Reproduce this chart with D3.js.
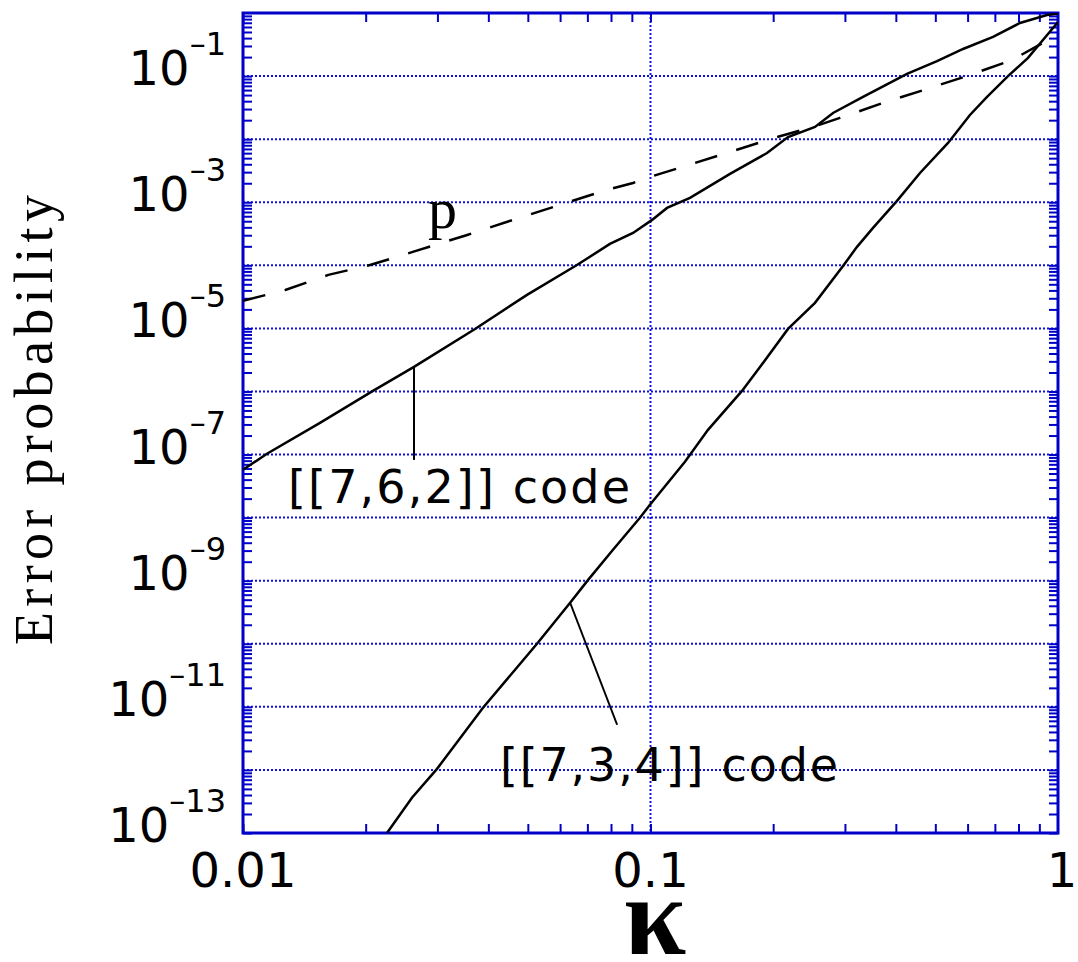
<!DOCTYPE html>
<html>
<head>
<meta charset="utf-8">
<script src="https://cdn.jsdelivr.net/npm/d3@7"></script>
<style>
  body { margin: 0; background: #fff; }
</style>
</head>
<body>
<div id="chart"></div>
<script>
// chart values
var pKappa = [0.0100, 0.0127, 0.0162, 0.0205, 0.0261, 0.0355, 0.0484, 0.0610, 0.0782, 0.0906, 0.0997,
              0.1264, 0.1594, 0.2043, 0.2505, 0.2917, 0.372, 0.477, 0.608, 0.771, 0.919, 1.0];
var pValue = [2.73e-5, 4.07e-5, 7.05e-5, 1.01e-4, 1.63e-4, 3.03e-4, 5.85e-4, 9.4e-4, 1.57e-3, 2.02e-3, 2.52e-3,
              4.05e-3, 6.5e-3, 1.08e-2, 1.56e-2, 2.17e-2, 3.75e-2, 6.25e-2, 0.104, 0.180, 0.335, 0.432];

var code762Kappa = [0.0100, 0.01145, 0.01545, 0.02084, 0.02628, 0.0371, 0.04977, 0.0660, 0.0795, 0.0906, 0.1009,
                    0.1098, 0.1250, 0.1567, 0.1932, 0.2175, 0.2533, 0.2805, 0.3323, 0.4260, 0.5048, 0.5848,
                    0.6928, 0.8066, 0.9397, 1.0];
var code762Value = [5.73e-8, 1.03e-7, 3.18e-7, 1.02e-6, 2.45e-6, 9.8e-6, 3.40e-5, 1.01e-4, 2.18e-4, 3.26e-4, 5.25e-4,
                    8.12e-4, 1.17e-3, 2.81e-3, 6.04e-3, 1.08e-2, 1.56e-2, 2.60e-2, 4.67e-2, 0.108, 0.173, 0.269,
                    0.417, 0.695, 0.93, 0.98];

var code734Kappa = [0.02256, 0.02598, 0.02993, 0.03881, 0.05266, 0.0635, 0.0703, 0.0809, 0.0942, 0.0997, 0.1215,
                    0.1384, 0.1677, 0.1835, 0.2175, 0.2533, 0.2968, 0.3212, 0.3516, 0.4026, 0.4585, 0.5372,
                    0.608, 0.6697, 0.7539, 0.8441, 0.9721, 1.0];
var code734Value = [1.0e-13, 3.62e-13, 1.04e-12, 9.7e-12, 1.0e-10, 4.47e-10, 1.03e-9, 3.09e-9, 9.93e-9, 1.60e-8, 7.66e-8,
                    2.46e-7, 1.02e-6, 2.20e-6, 9.8e-6, 2.54e-5, 9.78e-5, 1.96e-4, 3.92e-4, 1.05e-3, 2.91e-3, 8.71e-3,
                    2.42e-2, 4.67e-2, 0.100, 0.194, 0.578, 0.720];

// tick labels
var xTickValues = [0.01, 0.1, 1];
var xTickLabels = ["0.01", "0.1", "1"];
var yTickExponents = [-1, -3, -5, -7, -9, -11, -13];

// set the dimensions and margins of the graph
var margin = {top: 13, right: 20, bottom: 129, left: 243},
    width = 1078 - margin.left - margin.right,
    height = 962 - margin.top - margin.bottom;

var blue = "#0000c8";

var svgRoot = d3.select("#chart")
  .append("svg")
  .attr("width", width + margin.left + margin.right)
  .attr("height", height + margin.top + margin.bottom);

svgRoot.append("rect").attr("width", 1078).attr("height", 962).attr("fill", "#fff");

var svg = svgRoot.append("g")
  .attr("transform", "translate(" + margin.left + "," + margin.top + ")");

var x = d3.scaleLog().domain([0.01, 1]).range([0, width]);
var y = d3.scaleLog().domain([1e-13, 1]).range([height, 0]);

// minor tick positions: 1..9 in every decade
var xMinor = [];
for (var k = -2; k < 0; k++) for (var m = 1; m < 10; m++) xMinor.push(m * Math.pow(10, k));
var yMinor = [];
for (var k = -13; k < 0; k++) for (var m = 1; m < 10; m++) yMinor.push(m * Math.pow(10, k));

// dotted grid lines
var yGrid = [];
for (var k = -12; k < 0; k++) yGrid.push(Math.pow(10, k));

svg.append("g").selectAll("line.hg")
  .data(yGrid)
  .enter().append("line")
  .attr("x1", 0).attr("x2", width)
  .attr("y1", function(d) { return y(d); })
  .attr("y2", function(d) { return y(d); })
  .attr("stroke", "#1010e0")
  .attr("stroke-width", 2)
  .attr("stroke-dasharray", "2,2");

svg.append("line")
  .attr("x1", x(0.1)).attr("x2", x(0.1))
  .attr("y1", 0).attr("y2", height)
  .attr("stroke", "#1010e0")
  .attr("stroke-width", 2)
  .attr("stroke-dasharray", "2,2");

// axes with inward ticks
function styleAxis(g) {
  g.selectAll(".domain").remove();
  g.selectAll(".tick line").attr("stroke", blue).attr("stroke-width", 2);
}
svg.append("g").call(d3.axisLeft(y).tickValues(yMinor).tickSize(-9).tickFormat("")).call(styleAxis);
svg.append("g").attr("transform", "translate(" + width + ",0)")
  .call(d3.axisRight(y).tickValues(yMinor).tickSize(-9).tickFormat("")).call(styleAxis);
svg.append("g").attr("transform", "translate(0," + height + ")")
  .call(d3.axisBottom(x).tickValues(xMinor).tickSize(-9).tickFormat("")).call(styleAxis);
svg.append("g")
  .call(d3.axisTop(x).tickValues(xMinor).tickSize(-9).tickFormat("")).call(styleAxis);

// frame
svg.append("rect")
  .attr("width", width).attr("height", height)
  .attr("fill", "none")
  .attr("stroke", blue)
  .attr("stroke-width", 3);

// curves
svg.append("clipPath").attr("id", "clip")
  .append("rect").attr("width", width).attr("height", height);

var line = d3.line()
  .x(function(d) { return x(d[0]); })
  .y(function(d) { return y(d[1]); });

function pairs(a, b) { return a.map(function(v, i) { return [v, b[i]]; }); }

var curves = svg.append("g").attr("clip-path", "url(#clip)");
curves.append("path")
  .datum(pairs(pKappa, pValue))
  .attr("d", line)
  .attr("fill", "none")
  .attr("stroke", "#000")
  .attr("stroke-width", 2.5)
  .attr("stroke-dasharray", "23,20");
curves.append("path")
  .datum(pairs(code762Kappa, code762Value))
  .attr("d", line)
  .attr("fill", "none")
  .attr("stroke", "#000")
  .attr("stroke-width", 2.5);
curves.append("path")
  .datum(pairs(code734Kappa, code734Value))
  .attr("d", line)
  .attr("fill", "none")
  .attr("stroke", "#000")
  .attr("stroke-width", 2.5);

// y tick labels 10^k
var ylab = svgRoot.append("g").selectAll("text")
  .data(yTickExponents)
  .enter().append("text")
  .attr("x", 226)
  .attr("y", function(d) { return margin.top + y(Math.pow(10, d)) + 9; })
  .attr("text-anchor", "end")
  .attr("font-family", "DejaVu Sans")
  .attr("fill", "#000");
ylab.append("tspan").attr("font-size", 48).text("10");
ylab.append("tspan").attr("font-size", 32).attr("dy", -30)
  .text(function(d) { return "\u2013" + Math.abs(d); });

// x tick labels
svgRoot.append("g").selectAll("text")
  .data(xTickValues)
  .enter().append("text")
  .attr("x", function(d) { return margin.left + x(d) + (d === 1 ? 4 : 0); })
  .attr("y", 887)
  .attr("text-anchor", "middle")
  .attr("font-family", "DejaVu Sans")
  .attr("font-size", 48)
  .text(function(d, i) { return xTickLabels[i]; });

// axis titles
svgRoot.append("text")
  .attr("x", 655).attr("y", 954)
  .attr("text-anchor", "middle")
  .attr("font-family", "Liberation Serif")
  .attr("font-weight", "bold")
  .attr("font-size", 112)
  .text("\u03ba");

svgRoot.append("text")
  .attr("transform", "translate(52,420) rotate(-90)")
  .attr("text-anchor", "middle")
  .attr("font-family", "Liberation Serif")
  .attr("font-size", 54)
  .attr("textLength", 450)
  .text("Error probability");

// curve labels
svgRoot.append("text")
  .attr("x", 428).attr("y", 228)
  .attr("font-family", "Liberation Serif")
  .attr("font-size", 58)
  .text("p");

svgRoot.append("text")
  .attr("x", 288).attr("y", 503)
  .attr("font-family", "DejaVu Sans")
  .attr("font-size", 46)
  .attr("textLength", 342)
  .text("[[7,6,2]] code");

svgRoot.append("text")
  .attr("x", 500).attr("y", 781)
  .attr("font-family", "DejaVu Sans")
  .attr("font-size", 46)
  .attr("textLength", 338)
  .text("[[7,3,4]] code");

// pointer lines from labels to curves
svg.append("line")
  .attr("x1", x(0.02628)).attr("y1", y(2.45e-6))
  .attr("x2", x(0.02628)).attr("y2", y(2.45e-6) + 93)
  .attr("stroke", "#000").attr("stroke-width", 2);
svg.append("line")
  .attr("x1", x(0.0635)).attr("y1", y(4.47e-10))
  .attr("x2", x(0.0635) + 47).attr("y2", y(4.47e-10) + 122)
  .attr("stroke", "#000").attr("stroke-width", 2);
</script>
</body>
</html>
